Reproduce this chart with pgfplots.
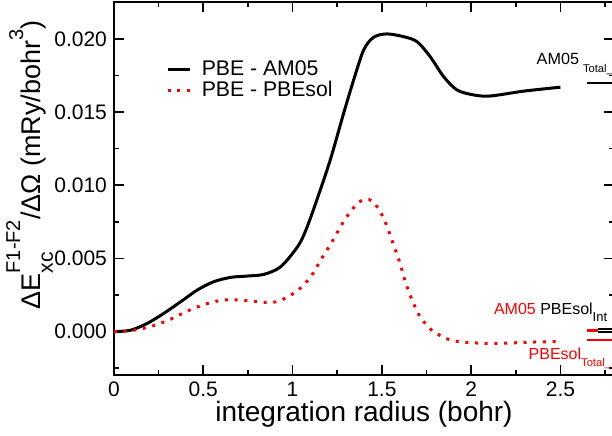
\documentclass[border=0pt]{standalone}
\usepackage{fontspec}
\setmainfont{Liberation Sans}
\usepackage{pgfplots}
\pgfplotsset{compat=1.18}
\newcommand\upr[2]{\raisebox{#1}{\fontsize{10}{10}\selectfont #2}}
\begin{document}
\begin{tikzpicture}
\begin{axis}[
  scale only axis, width=250pt, height=186.5pt,
  xmin=0, xmax=2.8, ymin=-0.00296, ymax=0.02252,
  xtick={0,0.5,1,1.5,2,2.5},
  minor xtick={0.25,0.75,1.25,1.75,2.25,2.75},
  ytick={0,0.005,0.01,0.015,0.02},
  minor ytick={-0.0025,0.0025,0.0075,0.0125,0.0175},
  scaled y ticks=false,
  tick align=inside, major tick length=5pt, minor tick length=2.5pt,
  axis line style={line width=0.8pt},
  every tick/.style={line width=0.8pt, black},
  tick label style={font=\fontsize{10.5}{12}\selectfont},
  /pgf/number format/assume math mode=true,
  y tick label style={/pgf/number format/fixed, /pgf/number format/fixed zerofill, /pgf/number format/precision=3},
  xlabel={integration radius (bohr)},
  xlabel style={font=\fontsize{14}{16}\selectfont, at={(axis description cs:0.5,-0.1252)}, anchor=base, inner sep=0pt},
  ylabel={ΔE\rlap{\raisebox{-6.5pt}{\fontsize{10.5}{10}\selectfont xc}}\upr{10pt}{F1-F2}/ΔΩ (mRy/bohr\upr{8.5pt}{3})},
  ylabel style={font=\fontsize{13.5}{16}\selectfont, at={(axis description cs:-0.148,0.563)}, anchor=base, inner sep=0pt},
  legend style={draw=none, fill=none, at={(axis description cs:0.1034,0.7909)}, anchor=west,
    font=\fontsize{10.6}{12}\selectfont, inner sep=0pt, row sep=0.5pt,
    nodes={inner sep=0.5pt, text height=7.7pt, text depth=1.5pt},
    /tikz/every odd column/.style={column sep=4.85pt}},
  legend cell align=left,
  legend image code/.code={\draw[#1] (0pt,0pt) -- (11pt,0pt);},
]
\addplot[black, line width=1.5pt, smooth] coordinates {
(0,0) (0.093,0.0001) (0.187,0.00057) (0.28,0.00126) (0.374,0.00205)
(0.467,0.00285) (0.56,0.00342) (0.654,0.00371) (0.747,0.0038) (0.841,0.00392)
(0.934,0.00444) (1.028,0.0058) (1.075,0.00695) (1.136,0.009) (1.211,0.01173)
(1.286,0.01492) (1.342,0.01719) (1.398,0.01924) (1.454,0.02011) (1.528,0.02034)
(1.622,0.02015) (1.697,0.01981) (1.771,0.01878) (1.846,0.01742) (1.921,0.01651)
(2.015,0.01617) (2.108,0.0161) (2.3,0.01644) (2.5,0.0167)
};
\addlegendentry{PBE - AM05}
\addplot[red, line width=1.5pt, dash pattern=on 1.5pt off 3.35pt, smooth] coordinates {
(0,0) (0.112,0.0001) (0.215,0.00039) (0.318,0.00085) (0.411,0.00141)
(0.514,0.00189) (0.617,0.00217) (0.725,0.00214) (0.831,0.00201) (0.883,0.002)
(0.934,0.00214) (1.028,0.0028) (1.102,0.00376) (1.158,0.0049) (1.214,0.006)
(1.242,0.0066) (1.295,0.0077) (1.36,0.00872) (1.407,0.00904) (1.454,0.00884)
(1.51,0.00775) (1.566,0.00592) (1.603,0.00462) (1.631,0.00342) (1.669,0.00217)
(1.715,0.00098) (1.752,0.00046) (1.79,0.0) (1.883,-0.00057) (1.996,-0.00075)
(2.145,-0.0008) (2.37,-0.0007) (2.5,-0.00068)
};
\addlegendentry{PBE - PBEsol}
\addplot[black, line width=1.2pt, forget plot] coordinates {(2.649,0.01699) (2.8,0.01699)};
\addplot[red, line width=1.2pt, forget plot] coordinates {(2.649,0.00007) (2.713,0.00007)};
\addplot[black, line width=0.9pt, forget plot] coordinates {(2.713,0.00018) (2.8,0.00018)};
\addplot[black, line width=0.9pt, forget plot] coordinates {(2.713,-0.00002) (2.8,-0.00002)};
\addplot[red, line width=1.2pt, forget plot] coordinates {(2.649,-0.00057) (2.8,-0.00057)};
\node[anchor=base west, inner sep=0pt, font=\fontsize{8.1}{10}\selectfont] at (axis cs:2.365,0.01822)
  {AM05\hspace{2pt}\raisebox{-4pt}{\fontsize{5.6}{7}\selectfont Total\_}};
\node[anchor=base west, inner sep=0pt, font=\fontsize{8}{10}\selectfont] at (axis cs:2.126,0.00114)
  {\textcolor{red}{AM05} PBEsol\raisebox{-3.5pt}{\fontsize{6.5}{8}\selectfont Int}};
\node[anchor=base west, inner sep=0pt, font=\fontsize{8}{10}\selectfont, text=red] at (axis cs:2.32,-0.00193)
  {PBEsol\raisebox{-3.5pt}{\fontsize{5.6}{7}\selectfont Total\_}};
\end{axis}
\pgfresetboundingbox
\path[use as bounding box] (-57pt,-30pt) rectangle (249pt,187.5pt);
\end{tikzpicture}
\end{document}
